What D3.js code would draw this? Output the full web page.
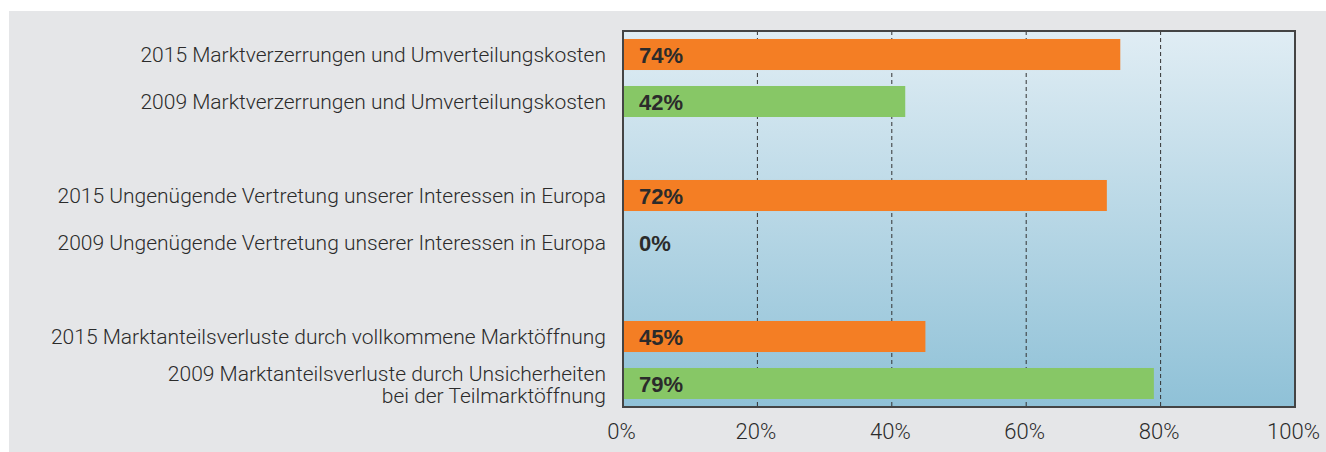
<!DOCTYPE html>
<html>
<head>
<meta charset="utf-8">
<script src="https://cdn.jsdelivr.net/npm/d3@7"></script>
<style>
  body { margin: 0; background: #fff; }
  .label { font-family: Roboto, "Liberation Sans", sans-serif; font-weight: 300; fill: #2b2b2b; }
  .value { font-family: "Liberation Sans", Arial, sans-serif; font-weight: bold; fill: #2b2b2b; }
  .x-axis text { font-family: Roboto, "Liberation Sans", sans-serif; font-weight: 300; fill: #2b2b2b; }
</style>
</head>
<body>
<div id="chart"></div>
<script>
// category labels, null = empty spacer row
var categories = [
  ["2015 Marktverzerrungen und Umverteilungskosten"],
  ["2009 Marktverzerrungen und Umverteilungskosten"],
  null,
  ["2015 Ungenügende Vertretung unserer Interessen in Europa"],
  ["2009 Ungenügende Vertretung unserer Interessen in Europa"],
  null,
  ["2015 Marktanteilsverluste durch vollkommene Marktöffnung"],
  ["2009 Marktanteilsverluste durch Unsicherheiten", "bei der Teilmarktöffnung"]
];
var values = [74, 42, null, 72, 0, null, 45, 79];
var years = ["2015", "2009", null, "2015", "2009", null, "2015", "2009"];
var tickValues = [0, 20, 40, 60, 80, 100];

var yearColor = { "2015": "#f47e24", "2009": "#87c766" };

var W = 1326, H = 452;
var plot = { left: 623, top: 31, right: 1295, bottom: 407 };

var svg = d3.select("#chart").append("svg")
  .attr("width", W)
  .attr("height", H);

// grey panel
svg.append("rect")
  .attr("x", 9).attr("y", 11)
  .attr("width", W - 9).attr("height", H - 11)
  .attr("fill", "#e5e6e8");

// gradient for plot area
var grad = svg.append("defs").append("linearGradient")
  .attr("id", "bg").attr("x1", 0).attr("y1", 0).attr("x2", 0).attr("y2", 1);
grad.append("stop").attr("offset", "0%").attr("stop-color", "#e0edf4");
grad.append("stop").attr("offset", "100%").attr("stop-color", "#8fc1d7");

var x = d3.scaleLinear().domain([0, 100]).range([plot.left, plot.right]);
var y = d3.scaleBand()
  .domain(d3.range(categories.length))
  .range([plot.top, plot.bottom])
  .paddingInner(0.34)
  .paddingOuter(0.17);

svg.append("rect")
  .attr("x", plot.left).attr("y", plot.top)
  .attr("width", plot.right - plot.left).attr("height", plot.bottom - plot.top)
  .attr("fill", "url(#bg)");

// dashed grid lines
svg.append("g").selectAll("line")
  .data(tickValues.slice(1, -1))
  .enter().append("line")
  .attr("x1", function (d) { return x(d); })
  .attr("x2", function (d) { return x(d); })
  .attr("y1", plot.top)
  .attr("y2", plot.bottom)
  .attr("stroke", "#333")
  .attr("stroke-width", 1)
  .attr("stroke-dasharray", "4,3");

var rows = categories.map(function (c, i) {
  return { label: c, value: values[i], year: years[i], index: i };
}).filter(function (d) { return d.label !== null; });

// bars
svg.append("g").selectAll("rect")
  .data(rows)
  .enter().append("rect")
  .attr("x", x(0))
  .attr("y", function (d) { return y(d.index); })
  .attr("width", function (d) { return x(d.value) - x(0); })
  .attr("height", y.bandwidth())
  .attr("fill", function (d) { return yearColor[d.year]; });

// value labels
svg.append("g").selectAll("text")
  .data(rows)
  .enter().append("text")
  .attr("class", "value")
  .attr("x", x(0) + 16)
  .attr("y", function (d) { return y(d.index) + y.bandwidth() / 2 + 8; })
  .attr("font-size", 22)
  .text(function (d) { return d.value + "%"; });

// category labels (multi-line ones are shifted up a bit)
var lab = svg.append("g").selectAll("text")
  .data(rows)
  .enter().append("text")
  .attr("class", "label")
  .attr("font-size", 21)
  .attr("text-anchor", "end")
  .attr("y", function (d) {
    return y(d.index) + y.bandwidth() / 2 + 7 - (d.label.length - 1) * 10;
  });
lab.selectAll("tspan")
  .data(function (d) { return d.label; })
  .enter().append("tspan")
  .attr("x", plot.left - 17)
  .attr("dy", function (d, i) { return i === 0 ? 0 : 22; })
  .text(function (d) { return d; });

// frame
svg.append("rect")
  .attr("x", plot.left).attr("y", plot.top)
  .attr("width", plot.right - plot.left).attr("height", plot.bottom - plot.top)
  .attr("fill", "none")
  .attr("stroke", "#444")
  .attr("stroke-width", 2);

// x axis
var axis = d3.axisBottom(x)
  .tickValues(tickValues)
  .tickSize(0)
  .tickPadding(16)
  .tickFormat(function (d) { return d + "%"; });

var axisGroup = svg.append("g")
  .attr("class", "x-axis")
  .attr("transform", "translate(0," + plot.bottom + ")")
  .call(axis);
axisGroup.select(".domain").remove();
axisGroup.selectAll("text").attr("font-size", 22).attr("dx", -2);
</script>
</body>
</html>
